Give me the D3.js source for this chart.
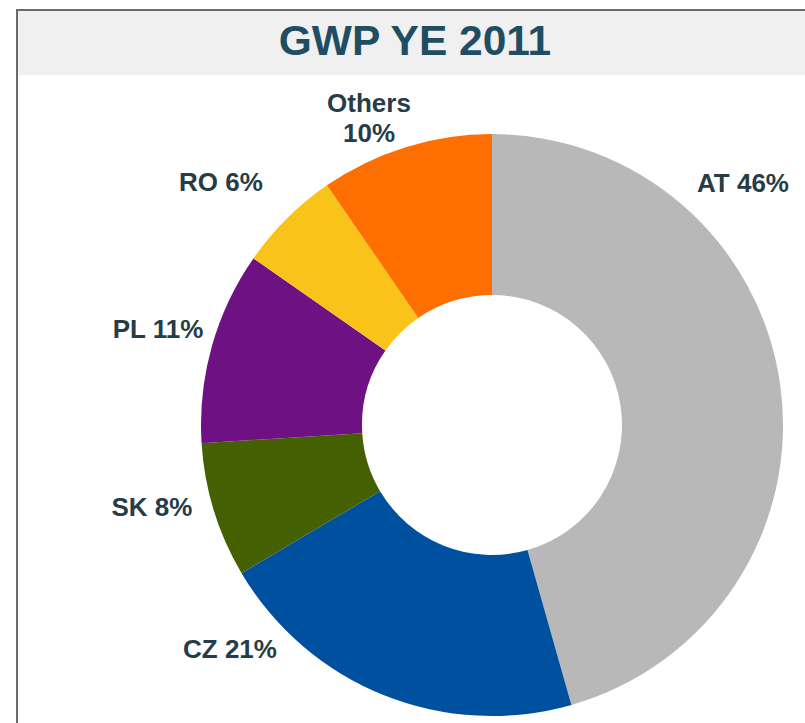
<!DOCTYPE html>
<html>
<head>
<meta charset="utf-8">
<script src="https://cdn.jsdelivr.net/npm/d3@7"></script>
<style>
body{margin:0;background:#fff;}
svg{display:block;}
.lbl{font-family:Arial,"Liberation Sans",sans-serif;font-weight:bold;font-size:26px;fill:#263c47;}
</style>
</head>
<body>
<svg id="chart"></svg>
<script>
// slices, clockwise from 12 o'clock
var regions = ["AT","CZ","SK","PL","RO","Others"];
var shares  = [45.6,20.9,7.5,10.7,5.7,9.6];
var labels  = ["AT 46%","CZ 21%","SK 8%","PL 11%","RO 6%","Others|10%"];
var colors  = ["#b8b8b8","#0050a0","#446000","#6e1283","#fac31a","#ff6e00"];

// label centre / baseline
var labelPos = {
    AT:[743,192], CZ:[230,658], SK:[152,516],
    PL:[158,338], RO:[221,191], Others:[369,112]
};

var screen = {width:805,height:723};
var svg = d3.select("#chart")
    .attr("width",screen.width)
    .attr("height",screen.height);

// title band
svg.append("rect")
    .attr("x",17).attr("y",10)
    .attr("width",screen.width)
    .attr("height",65)
    .attr("fill","#f0f0f0");
svg.append("line")
    .attr("x1",17).attr("x2",screen.width)
    .attr("y1",10).attr("y2",10)
    .attr("stroke","#6a6a6a").attr("stroke-width",2);
svg.append("line")
    .attr("x1",17).attr("x2",17)
    .attr("y1",9).attr("y2",screen.height)
    .attr("stroke","#6a6a6a").attr("stroke-width",2);

svg.append("text")
    .text("GWP YE 2011")
    .attr("x",415).attr("y",55)
    .attr("text-anchor","middle")
    .attr("font-family","Arial, 'Liberation Sans', sans-serif")
    .attr("font-weight","bold")
    .attr("font-size",42.5)
    .attr("fill","#1f4e63");

var pie = d3.pie().sort(null).value(function(d){return d;});
var arc = d3.arc().innerRadius(130).outerRadius(291);

var g = svg.append("g")
    .attr("transform","translate(492,425)");

g.selectAll("path")
    .data(pie(shares))
    .enter()
    .append("path")
    .attr("d",arc)
    .attr("fill",function(d,i){return colors[i];});

var lab = svg.append("g");
regions.forEach(function(r,i)
{
    var p = labelPos[r];
    var t = lab.append("text")
        .classed("lbl",true)
        .attr("text-anchor","middle")
        .attr("x",p[0]).attr("y",p[1]);
    labels[i].split("|").forEach(function(line,k)
    {
        t.append("tspan")
            .attr("x",p[0])
            .attr("dy",k==0?0:30)
            .text(line);
    });
});
</script>
</body>
</html>
